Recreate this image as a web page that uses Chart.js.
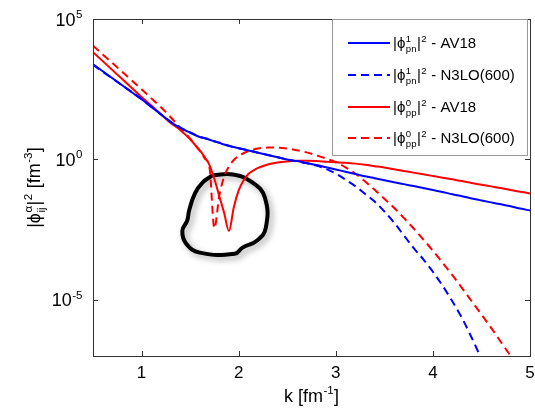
<!DOCTYPE html>
<html>
<head>
<meta charset="utf-8">
<script src="https://cdn.jsdelivr.net/npm/chart.js@4"></script>
<style>
  html,body{margin:0;padding:0;background:#fff;}
  #wrap{width:535px;height:413px;}
</style>
</head>
<body>
<div id="wrap"><canvas id="c" width="535" height="413"></canvas></div>
<script>
// k grid [fm^-1]
const K = [0.5,0.6,0.7,0.8,0.9,1.0,1.1,1.2,1.3,1.4,1.5,
  1.55,1.6,1.65,1.7,1.75,1.8,1.85,1.9,1.95,2.0,2.05,2.1,2.15,2.2,
  2.3,2.4,2.5,2.6,2.7,2.8,2.9,3.0,3.1,3.2,3.3,3.4,3.5,3.6,3.7,3.8,3.9,
  4.0,4.1,4.2,4.3,4.4,4.5,4.6,4.7,4.8,4.9,5.0];

// log10 of |phi|^2 [fm^-3]
const pnAV18Log = [3.39,3.14,2.89,2.64,2.39,2.14,1.87,1.6,1.33,1.12,0.95,
  0.87,0.8,0.75,0.7,0.64,0.59,0.53,0.48,0.44,0.4,0.36,0.32,0.28,0.24,
  0.16,0.08,0.0,-0.06,-0.13,-0.2,-0.28,-0.36,-0.44,-0.52,-0.6,-0.67,-0.74,-0.81,-0.88,-0.95,-1.02,
  -1.09,-1.16,-1.24,-1.31,-1.39,-1.46,-1.53,-1.6,-1.67,-1.75,-1.82];
const pnN3LOLog = [3.37,3.12,2.88,2.64,2.4,2.15,1.88,1.61,1.34,1.13,0.96,
  0.88,0.81,0.76,0.71,0.65,0.6,0.54,0.49,0.44,0.4,0.36,0.32,0.28,0.24,
  0.16,0.08,0.0,-0.07,-0.14,-0.22,-0.34,-0.5,-0.72,-0.95,-1.22,-1.5,-1.85,-2.25,-2.7,-3.15,-3.55,
  -4.0,-4.5,-5.05,-5.65,-6.35,-7.1,-7.8,-8.5,-9.2,-9.9,-10.6];
const ppAV18Log = [3.82,3.5,3.18,2.86,2.54,2.22,1.92,1.6,1.3,1.04,0.72,
  0.52,0.32,0.08,-0.2,-0.7,-1.3,-1.9,-2.55,-1.7,-1.1,-0.75,-0.52,-0.4,-0.3,
  -0.18,-0.11,-0.07,-0.05,-0.05,-0.06,-0.08,-0.1,-0.12,-0.15,-0.19,-0.24,-0.29,-0.35,-0.41,-0.47,-0.53,
  -0.59,-0.65,-0.71,-0.77,-0.84,-0.9,-0.96,-1.02,-1.09,-1.15,-1.21];
const ppN3LOLog = [4.05,3.74,3.43,3.12,2.81,2.5,2.18,1.86,1.5,1.12,0.74,
  0.52,0.3,0.04,-0.3,-2.45,-1.3,-0.62,-0.25,-0.02,0.12,0.22,0.3,0.35,0.39,
  0.42,0.42,0.39,0.33,0.25,0.15,0.03,-0.1,-0.28,-0.5,-0.78,-1.08,-1.4,-1.72,-2.08,-2.45,-2.85,
  -3.25,-3.68,-4.12,-4.58,-5.05,-5.52,-6.0,-6.5,-7.0,-7.55,-8.1];

// hand-drawn loop annotation (k, log10 value)
const loopK   = [1.73,1.94,2.14,2.27,2.28,2.19,2.04,1.96,1.60,1.46,1.42,1.47,1.49,1.55,1.63,1.73];
const loopLog = [-0.57,-0.54,-0.82,-1.36,-2.43,-2.89,-3.14,-3.36,-3.32,-3.0,-2.54,-2.18,-1.82,-1.21,-0.82,-0.57];

const xTicks = [1,2,3,4,5];
const yTickExp = [5,0,-5];

const seriesLabels = [
  ['|ϕ',{sup:'1',sub:'pn'},'|',{sup:'2'},' - AV18'],
  ['|ϕ',{sup:'1',sub:'pn'},'|',{sup:'2'},' - N3LO(600)'],
  ['|ϕ',{sup:'0',sub:'pp'},'|',{sup:'2'},' - AV18'],
  ['|ϕ',{sup:'0',sub:'pp'},'|',{sup:'2'},' - N3LO(600)']
];
const seriesColors = ['#0000ff','#0000ff','#ff0000','#ff0000'];
const seriesDash = [[],[8,5],[],[8,5]];

const FONT = '"Liberation Sans", Arial, sans-serif';
const pts = (xs, ls) => xs.map((x,i)=>({x:x, y:Math.pow(10, ls[i])}));

function rich(ctx, parts, x, y, size, draw){
  let cx = x;
  const small = size*0.64;
  for (const p of parts){
    if (typeof p === 'string'){
      ctx.font = size+'px '+FONT;
      if (draw) ctx.fillText(p, cx, y);
      cx += ctx.measureText(p).width;
    } else {
      ctx.font = small+'px '+FONT;
      let w = 0;
      if (p.sup){ if(draw) ctx.fillText(p.sup, cx+0.5, y-size*0.42); w=Math.max(w,ctx.measureText(p.sup).width); }
      if (p.sub){ if(draw) ctx.fillText(p.sub, cx+0.5, y+size*0.28); w=Math.max(w,ctx.measureText(p.sub).width); }
      cx += w+1;
    }
  }
  return cx - x;
}

const frame = {
  id:'frame',
  beforeDatasetDraw(chart,args){
    if (args.index===4){
      const ctx=chart.ctx; ctx.save();
      ctx.shadowColor='rgba(0,0,0,0.35)'; ctx.shadowBlur=6; ctx.shadowOffsetX=3; ctx.shadowOffsetY=3;
    }
  },
  afterDatasetDraw(chart,args){ if(args.index===4) chart.ctx.restore(); },
  afterDraw(chart){
    const ctx=chart.ctx, a=chart.chartArea, xs=chart.scales.x, ys=chart.scales.y;
    ctx.save();
    ctx.strokeStyle='#333'; ctx.lineWidth=1;
    ctx.strokeRect(Math.round(a.left)+0.5, Math.round(a.top)+0.5, Math.round(a.right-a.left), Math.round(a.bottom-a.top));
    ctx.beginPath();
    const tl=5;
    for (const t of xTicks){
      const px=Math.round(xs.getPixelForValue(t))+0.5;
      ctx.moveTo(px,a.bottom); ctx.lineTo(px,a.bottom-tl);
      ctx.moveTo(px,a.top); ctx.lineTo(px,a.top+tl);
    }
    for (const e of yTickExp){
      const py=Math.round(ys.getPixelForValue(Math.pow(10,e)))+0.5;
      ctx.moveTo(a.left,py); ctx.lineTo(a.left+tl,py);
      ctx.moveTo(a.right,py); ctx.lineTo(a.right-tl,py);
    }
    ctx.stroke();
    ctx.fillStyle='#000';
    // x tick labels
    ctx.font='17px '+FONT; ctx.textAlign='center'; ctx.textBaseline='alphabetic';
    for (const t of xTicks){ ctx.fillText(String(t), xs.getPixelForValue(t), a.bottom+22); }
    // y tick labels
    ctx.textAlign='left';
    for (const e of yTickExp){
      const parts=['10',{sup:String(e)}];
      const w=rich(ctx,parts,0,0,18,false);
      rich(ctx,parts,a.left-10-w, ys.getPixelForValue(Math.pow(10,e))+6.5, 18, true);
    }
    // x title
    const xt=['k [fm',{sup:'-1'},']'];
    const xw=rich(ctx,xt,0,0,18,false);
    rich(ctx,xt,(a.left+a.right)/2-xw/2, a.bottom+46, 18, true);
    // y title
    const yt=['|ϕ',{sup:'α',sub:'ij'},'|',{sup:'2'},' [fm',{sup:'-3'},']'];
    const yw=rich(ctx,yt,0,0,18,false);
    ctx.save(); ctx.translate(40,(a.top+a.bottom)/2); ctx.rotate(-Math.PI/2);
    rich(ctx,yt,-yw/2,0,18,true); ctx.restore();
    // legend
    const lx=332, ly=19, lw=195, lh=136;
    ctx.fillStyle='#fff'; ctx.fillRect(lx,ly,lw,lh);
    ctx.strokeStyle='#999'; ctx.strokeRect(lx+0.5,ly+0.5,lw,lh);
    const rows=[43,75,107,138];
    for (let i=0;i<4;i++){
      ctx.strokeStyle=seriesColors[i]; ctx.lineWidth=2; ctx.setLineDash(seriesDash[i]);
      ctx.beginPath(); ctx.moveTo(348,rows[i]); ctx.lineTo(390,rows[i]); ctx.stroke();
      ctx.setLineDash([]);
      ctx.fillStyle='#000';
      rich(ctx,seriesLabels[i],393,rows[i]+5,15,true);
    }
    ctx.restore();
  }
};

const datasets = [pnAV18Log,pnN3LOLog,ppAV18Log,ppN3LOLog].map((L,i)=>({
  data: pts(K,L), borderColor: seriesColors[i], borderWidth: 2, borderDash: seriesDash[i],
  pointRadius: 0, fill:false, cubicInterpolationMode:'monotone'
}));
datasets.push({
  data: pts(loopK,loopLog), borderColor:'#000', borderWidth:4, pointRadius:0, fill:false,
  tension:0.45, clip:false
});

new Chart(document.getElementById('c'), {
  type:'line',
  data:{datasets: datasets},
  options:{
    responsive:false, devicePixelRatio:1, animation:false,
    layout:{padding:{top:19,right:5,left:0,bottom:0}},
    plugins:{legend:{display:false}, tooltip:{enabled:false}},
    scales:{
      x:{type:'linear', min:0.5, max:5, grid:{display:false}, border:{display:false},
         ticks:{display:false}, afterFit(s){ s.height=57; }},
      y:{type:'logarithmic', min:1e-7, max:1e5, grid:{display:false}, border:{display:false},
         ticks:{display:false}, afterFit(s){ s.width=93; }}
    }
  },
  plugins:[frame]
});
</script>
</body>
</html>
